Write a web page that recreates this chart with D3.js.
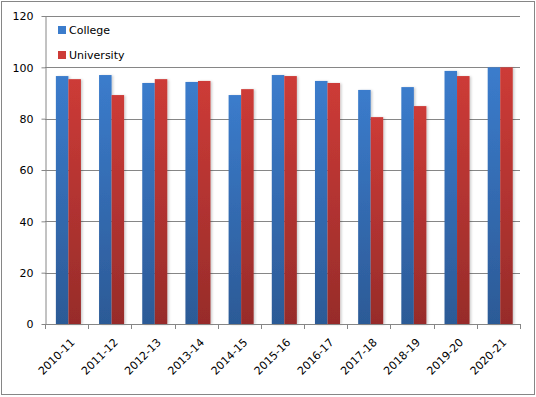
<!DOCTYPE html>
<html>
<head>
<meta charset="utf-8">
<script src="https://cdn.jsdelivr.net/npm/d3@7"></script>
<style>
  body { margin: 0; background: #fff; }
  svg text { font-family: "DejaVu Sans", sans-serif; font-size: 11px; fill: #000; }
</style>
</head>
<body>
<div id="chart"></div>
<script>
const years = ["2010-11", "2011-12", "2012-13", "2013-14", "2014-15", "2015-16",
  "2016-17", "2017-18", "2018-19", "2019-20", "2020-21"];
const college = [96.6, 97.0, 93.9, 94.3, 89.2, 97.0, 94.7, 91.2, 92.3, 98.6, 100];
const university = [95.4, 89.2, 95.4, 94.7, 91.5, 96.6, 93.9, 80.6, 84.9, 96.6, 100];
const seriesNames = ["College", "University"];
const yTicks = [0, 20, 40, 60, 80, 100, 120];

let width = 536, height = 397;
let mLeft = 45, mRight = 520, mTop = 16, mBottom = 324;

let svg = d3.select("#chart").append("svg")
  .attr("width", width)
  .attr("height", height);

// gradients for the bars + a soft shadow
let defs = svg.append("defs");
const grads = [["gCol", "#3b7ccc", "#2c5a96"], ["gUni", "#cd3b37", "#972c2a"]];
grads.forEach(g => {
  let lg = defs.append("linearGradient").attr("id", g[0])
    .attr("x1", 0).attr("y1", 0).attr("x2", 0).attr("y2", 1);
  lg.append("stop").attr("offset", "0%").attr("stop-color", g[1]);
  lg.append("stop").attr("offset", "100%").attr("stop-color", g[2]);
});
defs.append("filter").attr("id", "shadow")
  .attr("x", "-20%").attr("y", "-5%").attr("width", "160%").attr("height", "110%")
  .append("feDropShadow")
  .attr("dx", 1.5).attr("dy", 0.5).attr("stdDeviation", 1)
  .attr("flood-color", "#000").attr("flood-opacity", 0.2);
let fills = ["url(#gCol)", "url(#gUni)"];
let legendColors = ["#3b7ccc", "#cd3b37"];

// outer border
svg.append("rect")
  .attr("x", 1.5).attr("y", 1.5)
  .attr("width", width - 3).attr("height", height - 4)
  .attr("fill", "none").attr("stroke", "#868686");

const x = d3.scaleBand().domain(years).range([mLeft, mRight])
  .paddingInner(0.42).paddingOuter(0.21).align(0.6);
const xs = d3.scaleBand().domain(seriesNames).range([0, x.bandwidth()]);
const y = d3.scaleLinear().domain([0, 120]).range([mBottom, mTop]);

// gridlines
svg.append("g").selectAll("line")
  .data(yTicks.filter(d => d > 0))
  .join("line")
  .attr("x1", mLeft).attr("x2", mRight)
  .attr("y1", d => Math.round(y(d)) + 0.5).attr("y2", d => Math.round(y(d)) + 0.5)
  .attr("stroke", "#868686");

// bars
let data = years.map((yr, i) => ({ year: yr, vals: [college[i], university[i]] }));
svg.append("g").selectAll("g")
  .data(data)
  .join("g")
  .attr("transform", d => `translate(${x(d.year)},0)`)
  .attr("filter", "url(#shadow)")
  .selectAll("rect")
  .data(d => d.vals.map((v, k) => ({ name: seriesNames[k], v: v, k: k })))
  .join("rect")
  .attr("x", d => xs(d.name))
  .attr("y", d => y(d.v))
  .attr("width", xs.bandwidth())
  .attr("height", d => y(0) - y(d.v))
  .attr("fill", d => fills[d.k]);

// y axis
let yAxis = svg.append("g")
  .attr("transform", `translate(${mLeft + 0.5},0)`)
  .call(d3.axisLeft(y).tickValues(yTicks).tickSize(4).tickPadding(8).tickSizeOuter(0));
yAxis.select(".domain").attr("stroke", "#868686");
yAxis.selectAll(".tick line").attr("stroke", "#868686");
yAxis.selectAll("text").attr("font-size", 11).attr("font-family", "DejaVu Sans").attr("dy", "0.35em");

// x axis
let xTickPos = years.map((yr, i) => mLeft + i * (mRight - mLeft) / years.length).concat([mRight]);
let xg = svg.append("g");
xg.append("line")
  .attr("x1", mLeft).attr("x2", mRight)
  .attr("y1", mBottom + 0.5).attr("y2", mBottom + 0.5)
  .attr("stroke", "#868686");
xg.selectAll("line.t")
  .data(xTickPos)
  .join("line")
  .attr("class", "t")
  .attr("x1", d => Math.round(d) + 0.5).attr("x2", d => Math.round(d) + 0.5)
  .attr("y1", mBottom).attr("y2", mBottom + 5)
  .attr("stroke", "#868686");
xg.selectAll("text")
  .data(years)
  .join("text")
  .attr("text-anchor", "end")
  .attr("transform", d => `translate(${x(d) + x.bandwidth() / 2 + 7},${mBottom + 19}) rotate(-45)`)
  .text(d => d);

// legend
let lg = svg.append("g").selectAll("g")
  .data(seriesNames)
  .join("g")
  .attr("transform", (d, i) => `translate(58,${26 + i * 25})`);
lg.append("rect").attr("width", 8).attr("height", 8).attr("fill", (d, i) => legendColors[i]);
lg.append("text").attr("x", 11).attr("y", 8).text(d => d);
</script>
</body>
</html>
